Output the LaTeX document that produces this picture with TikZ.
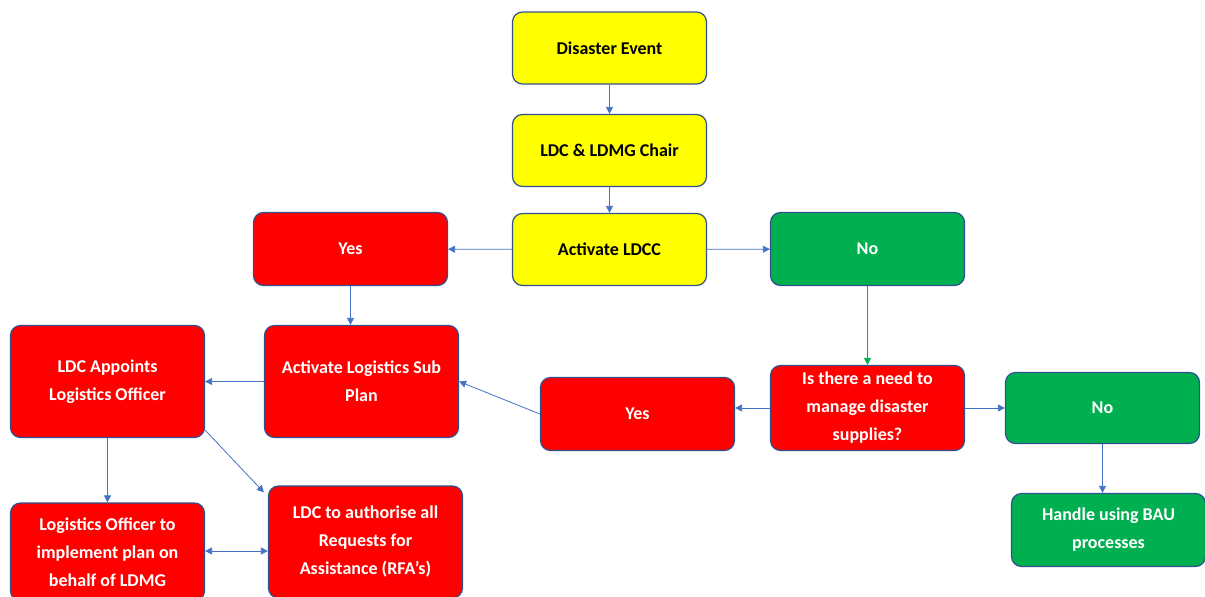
\documentclass[tikz,border=0pt]{standalone}
\usepackage{fontspec}
\setmainfont{Carlito}
\usetikzlibrary{arrows.meta,calc}
\definecolor{boxyellow}{HTML}{FFFF00}
\definecolor{boxred}{HTML}{FF0000}
\definecolor{boxgreen}{HTML}{00B050}
\definecolor{edgeblue}{HTML}{2F528F}
\definecolor{arrowblue}{HTML}{4472C4}
\tikzset{
  box/.style={draw=edgeblue, line width=1.2pt, rounded corners=10pt,
    minimum width=194pt, align=center, inner sep=2pt,
    font=\fontsize{18}{28}\selectfont\bfseries},
  ybox/.style={box, fill=boxyellow, text=black},
  rbox/.style={box, fill=boxred, text=white},
  gbox/.style={box, fill=boxgreen, text=white},
  conn/.style={draw=arrowblue, line width=0.8pt, -{Triangle[length=7pt,width=7pt]}},
  dconn/.style={draw=arrowblue, line width=0.8pt, {Triangle[length=7pt,width=7pt]}-{Triangle[length=7pt,width=7pt]}},
  gconn/.style={draw=boxgreen, line width=0.8pt, -{Triangle[length=7pt,width=7pt]}},
}
\begin{document}
\begin{tikzpicture}[x=1pt,y=-1pt]
\useasboundingbox (0,0) rectangle (1205,597);
\clip (0,0) rectangle (1205,597);
% top column
\node[ybox, minimum height=72pt] (event) at (609.5,48) {Disaster Event};
\node[ybox, minimum height=72pt] (chair) at (609.5,150.5) {LDC \& LDMG Chair};
\node[ybox, minimum height=72pt] (ldcc) at (609.5,249.5) {Activate LDCC};
\node[rbox, minimum height=73pt] (yes1) at (350.5,249) {Yes};
\node[gbox, minimum height=73pt] (no1) at (867.5,249) {No};
% middle row
\node[rbox, minimum height=112pt] (sub) at (361.5,381.5) {Activate Logistics Sub\\Plan};
\node[rbox, minimum height=112pt] (appoint) at (107.5,381.5) {LDC Appoints\\Logistics Officer};
\node[rbox, minimum height=73pt] (yes2) at (637.5,414) {Yes};
\node[rbox, minimum height=85pt] (need) at (867.5,408) {Is there a need to\\manage disaster\\supplies?};
\node[gbox, minimum height=71pt] (no2) at (1102.5,408) {No};
% bottom row
\node[gbox, minimum height=73pt] (handle) at (1108.5,530) {Handle using BAU\\processes};
\node[rbox, minimum height=98pt] (officer) at (107.5,552) {Logistics Officer to\\implement plan on\\behalf of LDMG};
\node[rbox, minimum height=112pt] (auth) at (365.5,542) {LDC to authorise all\\Requests for\\Assistance (RFA’s)};
% connectors
\draw[conn] (event) -- (chair);
\draw[conn] (chair) -- (ldcc);
\draw[conn] (ldcc) -- (yes1);
\draw[conn] (ldcc) -- (no1);
\draw[conn] (yes1.south) -- (yes1.south |- sub.north);
\draw[gconn] (no1) -- (need);
\draw[conn] (need.west) -- (need.west -| yes2.east);
\draw[conn] (need) -- (no2);
\draw[conn] (yes2.west) -- (sub.east);
\draw[conn] (sub) -- (appoint);
\draw[conn] (appoint) -- (officer);
\coordinate (authtip) at ($(auth.north west)+(-4,7)$);
\draw[conn] ($(appoint.south east)+(0,-8)$) -- (authtip);
\draw[dconn] (officer.east |- 0,551) -- (auth.west |- 0,551);
\draw[conn] (no2.south) -- (no2.south |- handle.north);
\end{tikzpicture}
\end{document}
